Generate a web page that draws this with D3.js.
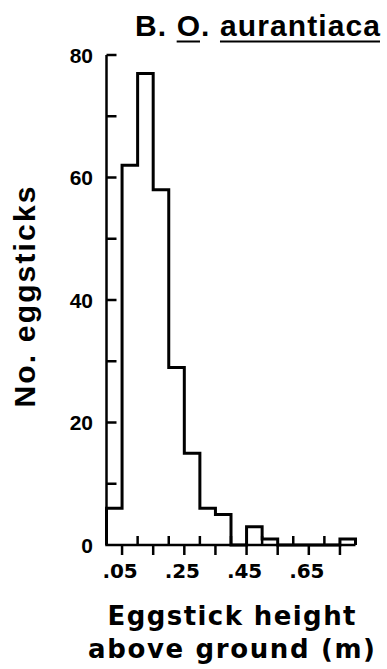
<!DOCTYPE html>
<html>
<head>
<meta charset="utf-8">
<script src="https://cdn.jsdelivr.net/npm/d3@7"></script>
<style>
  html, body { margin: 0; padding: 0; background: #fff; }
  svg { display: block; }
  text { font-family: "Liberation Sans", Arial, Helvetica, sans-serif; font-weight: bold; fill: #000; }
  text.wide { font-family: "DejaVu Sans", sans-serif; }
</style>
</head>
<body>
<svg id="chart" width="387" height="669"></svg>
<script>
// ---- data ----
const binStarts = [0, 0.05, 0.10, 0.15, 0.20, 0.25, 0.30, 0.35, 0.40, 0.45, 0.50, 0.55, 0.60, 0.65, 0.70, 0.75];
const binWidth = 0.05;
const counts = [6, 62, 77, 58, 29, 15, 6, 5, 0, 3, 1, 0, 0, 0, 0, 1];
const xTickLabels = [".05", ".25", ".45", ".65"];
const xTickLabelValues = [0.05, 0.25, 0.45, 0.65];
const yTickValues = [0, 20, 40, 60, 80];
const titleText = "B. O. aurantiaca";
const yTitle = "No. eggsticks";
const xTitle1 = "Eggstick height";
const xTitle2 = "above ground (m)";

const svg = d3.select("#chart");
const x = d3.scaleLinear().domain([0, 0.8]).range([106.5, 355.5]);
const y = d3.scaleLinear().domain([0, 80]).range([545, 55]);

// ---- axes ----
svg.append("line").attr("x1", x(0)).attr("x2", x(0)).attr("y1", y(0)).attr("y2", y(80))
  .attr("stroke", "#000").attr("stroke-width", 2.5);
svg.append("line").attr("x1", x(0) - 1.25).attr("x2", x(0.8)).attr("y1", y(0)).attr("y2", y(0))
  .attr("stroke", "#000").attr("stroke-width", 2.5);

// y ticks (inward)
const yTicks = d3.range(10, 81, 10);
svg.selectAll(".ytick").data(yTicks).enter().append("line")
  .attr("x1", x(0)).attr("x2", x(0) + 10)
  .attr("y1", d => y(d)).attr("y2", d => y(d))
  .attr("stroke", "#000").attr("stroke-width", 2.5);

// y tick labels
svg.selectAll(".ylab").data(yTickValues).enter().append("text")
  .attr("x", 93).attr("y", d => y(d)).attr("dy", "0.36em")
  .attr("text-anchor", "end").attr("font-size", 21)
  .text(d => d);

// x ticks: down at .05 offsets, up at .10 multiples
const downTicks = d3.range(0.05, 0.8, 0.1);
const upTicks = d3.range(0.1, 0.75, 0.1);
svg.selectAll(".xdown").data(downTicks).enter().append("line")
  .attr("x1", d => x(d)).attr("x2", d => x(d))
  .attr("y1", y(0)).attr("y2", y(0) + 10)
  .attr("stroke", "#000").attr("stroke-width", 2.5);
svg.selectAll(".xup").data(upTicks).enter().append("line")
  .attr("x1", d => x(d)).attr("x2", d => x(d))
  .attr("y1", y(0)).attr("y2", y(0) - 9)
  .attr("stroke", "#000").attr("stroke-width", 2.5);

// x tick labels
svg.selectAll(".xlab").data(xTickLabelValues).enter().append("text")
  .attr("class", "wide")
  .attr("x", d => x(d) - 2).attr("y", 578)
  .attr("text-anchor", "middle").attr("font-size", 20)
  .attr("textLength", 35).attr("lengthAdjust", "spacing")
  .text((d, i) => xTickLabels[i]);

// ---- histogram step outline ----
const pts = [[0, 0]];
binStarts.forEach((b, i) => pts.push([b, counts[i]]));
pts.push([binStarts[binStarts.length - 1] + binWidth, counts[counts.length - 1]]);
pts.push([binStarts[binStarts.length - 1] + binWidth, 0]);
const line = d3.line().x(d => x(d[0])).y(d => y(d[1])).curve(d3.curveStepAfter);
svg.append("path").attr("d", line(pts))
  .attr("fill", "none").attr("stroke", "#000").attr("stroke-width", 3)
  .attr("stroke-linejoin", "miter");

// ---- titles ----
const title = svg.append("text")
  .attr("x", 257.5).attr("y", 36).attr("text-anchor", "middle")
  .attr("font-size", 30).attr("textLength", 245).attr("lengthAdjust", "spacing")
  .text(titleText);
const tnode = title.node();
function underline(i0, i1) {
  const a = tnode.getExtentOfChar(i0);
  const b = tnode.getExtentOfChar(i1);
  svg.append("line").attr("x1", a.x).attr("x2", b.x + b.width)
    .attr("y1", 41.5).attr("y2", 41.5)
    .attr("stroke", "#000").attr("stroke-width", 2);
}
underline(3, 3);
underline(6, 15);

svg.append("text")
  .attr("transform", "translate(35,297) rotate(-90)")
  .attr("text-anchor", "middle").attr("font-size", 30)
  .attr("textLength", 221).attr("lengthAdjust", "spacing")
  .text(yTitle);

svg.append("text").attr("class", "wide")
  .attr("x", 231.5).attr("y", 625).attr("text-anchor", "middle")
  .attr("font-size", 26).attr("textLength", 248).attr("lengthAdjust", "spacing")
  .text(xTitle1);
svg.append("text").attr("class", "wide")
  .attr("x", 231.5).attr("y", 658).attr("text-anchor", "middle")
  .attr("font-size", 26).attr("textLength", 287).attr("lengthAdjust", "spacing")
  .text(xTitle2);
</script>
</body>
</html>
